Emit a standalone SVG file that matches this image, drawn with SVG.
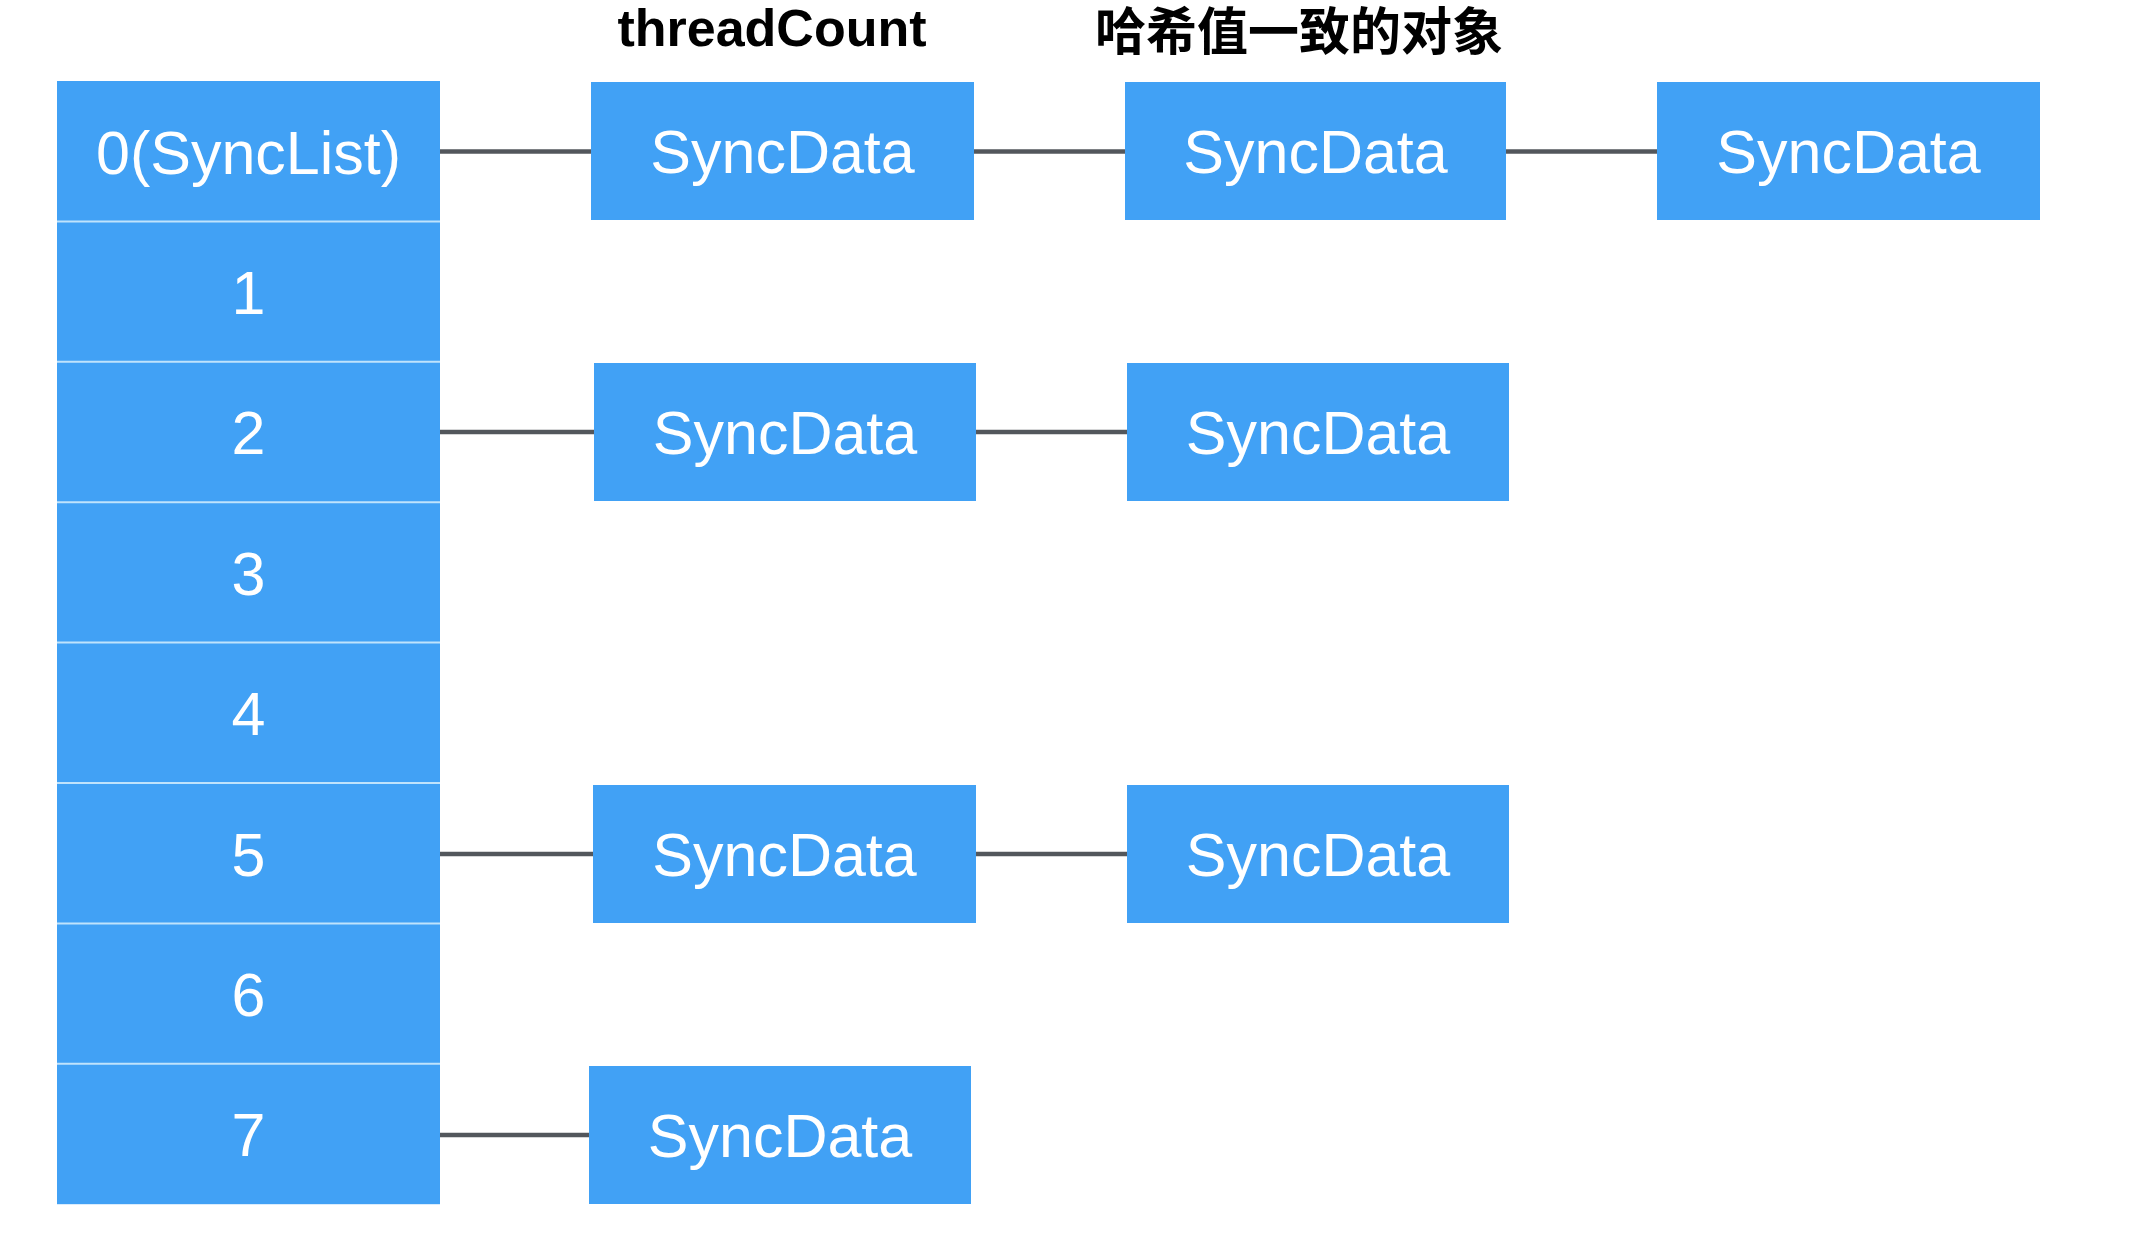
<svg xmlns="http://www.w3.org/2000/svg" width="2142" height="1244" viewBox="0 0 2142 1244">
<style>
.box{fill:#41a1f5}
.sep{stroke:#bfe3fc;stroke-width:2}
.lbl{fill:#ffffff;font-family:"Liberation Sans",Arial,sans-serif;font-size:61px;text-anchor:middle}
.title{fill:#000000;font-weight:bold;text-anchor:middle}
.conn{stroke:#53575c;stroke-width:4.5;fill:none}
</style>
<rect width="2142" height="1244" fill="#ffffff"/>
<g id="titles">
<text class="title" x="772" y="46" font-size="52" font-family="Liberation Sans, Arial, sans-serif">threadCount</text>
<text class="title" x="1299" y="50" font-size="51" font-family="Noto Sans CJK SC, Liberation Sans, sans-serif">哈希值一致的对象</text>
</g>
<g id="connectors">
<line class="conn" x1="435" y1="151.5" x2="591" y2="151.5"/>
<line class="conn" x1="974" y1="151.5" x2="1125" y2="151.5"/>
<line class="conn" x1="1506" y1="151.5" x2="1657" y2="151.5"/>
<line class="conn" x1="438" y1="432" x2="594" y2="432"/>
<line class="conn" x1="976" y1="432" x2="1127" y2="432"/>
<line class="conn" x1="438" y1="854" x2="593" y2="854"/>
<line class="conn" x1="976" y1="854" x2="1127" y2="854"/>
<line class="conn" x1="434" y1="1135" x2="589" y2="1135"/>
</g>
<g id="synclist">
<g id="row0"><rect class="box" x="57" y="81" width="383" height="140.4"/><text class="lbl" x="248.5" y="173.5">0(SyncList)</text></g>
<g id="row1"><rect class="box" x="57" y="221.4" width="383" height="140.4"/><text class="lbl" x="248.5" y="313.9">1</text></g>
<g id="row2"><rect class="box" x="57" y="361.8" width="383" height="140.4"/><text class="lbl" x="248.5" y="454.3">2</text></g>
<g id="row3"><rect class="box" x="57" y="502.2" width="383" height="140.4"/><text class="lbl" x="248.5" y="594.7">3</text></g>
<g id="row4"><rect class="box" x="57" y="642.6" width="383" height="140.4"/><text class="lbl" x="248.5" y="735.1">4</text></g>
<g id="row5"><rect class="box" x="57" y="783" width="383" height="140.4"/><text class="lbl" x="248.5" y="875.5">5</text></g>
<g id="row6"><rect class="box" x="57" y="923.4" width="383" height="140.4"/><text class="lbl" x="248.5" y="1015.9">6</text></g>
<g id="row7"><rect class="box" x="57" y="1063.8" width="383" height="140.4"/><text class="lbl" x="248.5" y="1156.3">7</text></g>
<line class="sep" x1="57" y1="221.4" x2="440" y2="221.4"/>
<line class="sep" x1="57" y1="361.8" x2="440" y2="361.8"/>
<line class="sep" x1="57" y1="502.2" x2="440" y2="502.2"/>
<line class="sep" x1="57" y1="642.6" x2="440" y2="642.6"/>
<line class="sep" x1="57" y1="783" x2="440" y2="783"/>
<line class="sep" x1="57" y1="923.4" x2="440" y2="923.4"/>
<line class="sep" x1="57" y1="1063.8" x2="440" y2="1063.8"/>
</g>
<g id="r0c2"><rect class="box" x="591" y="82" width="383" height="138"/><text class="lbl" x="782.5" y="173">SyncData</text></g>
<g id="r0c3"><rect class="box" x="1125" y="82" width="381" height="138"/><text class="lbl" x="1315.5" y="173">SyncData</text></g>
<g id="r0c4"><rect class="box" x="1657" y="82" width="383" height="138"/><text class="lbl" x="1848.5" y="173">SyncData</text></g>
<g id="r2c2"><rect class="box" x="594" y="363" width="382" height="138"/><text class="lbl" x="785" y="454">SyncData</text></g>
<g id="r2c3"><rect class="box" x="1127" y="363" width="382" height="138"/><text class="lbl" x="1318" y="454">SyncData</text></g>
<g id="r5c2"><rect class="box" x="593" y="785" width="383" height="138"/><text class="lbl" x="784.5" y="876">SyncData</text></g>
<g id="r5c3"><rect class="box" x="1127" y="785" width="382" height="138"/><text class="lbl" x="1318" y="876">SyncData</text></g>
<g id="r7c2"><rect class="box" x="589" y="1066" width="382" height="138"/><text class="lbl" x="780" y="1157">SyncData</text></g>
</svg>
